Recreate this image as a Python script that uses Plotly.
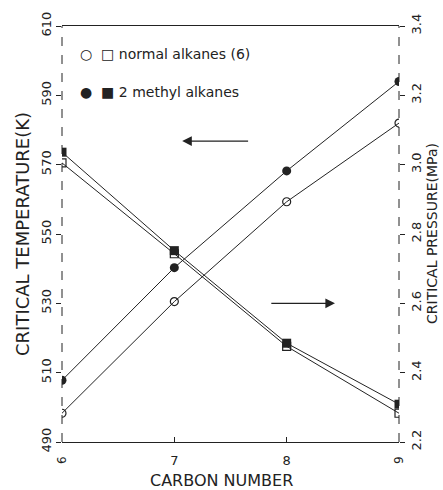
import plotly.graph_objects as go

carbon = [6, 7, 8, 9]
tc_normal = [498.3, 530.5, 559.3, 582.0]
tc_methyl = [507.8, 540.3, 568.2, 594.0]
pc_normal = [3.005, 2.743, 2.476, 2.283]
pc_methyl = [3.036, 2.752, 2.485, 2.309]
x_ticks = [6, 7, 8, 9]
t_ticks = [490, 510, 530, 550, 570, 590, 610]
p_ticks = [2.2, 2.4, 2.6, 2.8, 3.0, 3.2, 3.4]

FONT = "DejaVu Sans"
INK = "#222222"

fig = go.Figure()
line = dict(color=INK, width=1)
fig.add_trace(go.Scatter(x=carbon, y=tc_normal, mode="lines+markers", line=line,
                         marker=dict(symbol="circle-open", size=8, color=INK, line=dict(width=1.2))))
fig.add_trace(go.Scatter(x=carbon, y=tc_methyl, mode="lines+markers", line=line,
                         marker=dict(symbol="circle", size=9, color=INK)))
fig.add_trace(go.Scatter(x=carbon, y=pc_normal, mode="lines+markers", line=line, yaxis="y2",
                         marker=dict(symbol="square-open", size=8, color=INK, line=dict(width=1.2))))
fig.add_trace(go.Scatter(x=carbon, y=pc_methyl, mode="lines+markers", line=line, yaxis="y2",
                         marker=dict(symbol="square", size=9, color=INK)))

fig.update_layout(
    width=443, height=490,
    margin=dict(l=62, r=44, t=24, b=48),
    paper_bgcolor="white", plot_bgcolor="white",
    showlegend=False,
    font=dict(family=FONT, color=INK, size=13),
    xaxis=dict(range=[6, 9], tickvals=x_ticks, ticktext=["", "7", "8", ""],
               ticks="inside", ticklen=5, tickcolor=INK, showgrid=False, zeroline=False,
               showline=True, linecolor=INK, linewidth=1, mirror=True,
               ticklabelstandoff=6, tickfont=dict(size=13)),
    yaxis=dict(range=[490, 610], tickvals=t_ticks, tickangle=-90,
               ticks="outside", ticklen=5, tickcolor=INK, showgrid=False, zeroline=False,
               showline=False, tickfont=dict(size=13)),
    yaxis2=dict(range=[2.2, 3.4], tickvals=p_ticks, tickformat=".1f", tickangle=-90,
                overlaying="y", side="right",
                ticks="outside", ticklen=5, tickcolor=INK, showgrid=False, zeroline=False,
                showline=False, tickfont=dict(size=13)),
)

# dashed vertical axes
fig.add_shape(type="line", xref="paper", yref="paper", x0=0, x1=0, y0=0, y1=1,
              line=dict(color=INK, width=1, dash="dash"))
fig.add_shape(type="line", xref="paper", yref="paper", x0=1, x1=1, y0=0, y1=1,
              line=dict(color=INK, width=1, dash="dash"))

# end x tick labels rotated
fig.add_annotation(x=6, y=0, xref="x", yref="paper", text="6", showarrow=False,
                   textangle=-90, yanchor="middle", yshift=-18, font=dict(size=12))
fig.add_annotation(x=9, y=0, xref="x", yref="paper", text="9", showarrow=False,
                   textangle=-90, yanchor="middle", yshift=-18, font=dict(size=12))

# axis titles
fig.add_annotation(x=0, y=0.5, xref="paper", yref="paper", text="CRITICAL TEMPERATURE(K)",
                   showarrow=False, textangle=-90, xanchor="center", xshift=-40, font=dict(size=18))
fig.add_annotation(x=1, y=0.5, xref="paper", yref="paper", text="CRITICAL PRESSURE(MPa)",
                   showarrow=False, textangle=-90, xanchor="center", xshift=33, font=dict(size=14))
fig.add_annotation(x=0.5, y=0, xref="paper", yref="paper", text="CARBON NUMBER",
                   showarrow=False, yanchor="middle", yshift=-38, xshift=-9, font=dict(size=16))

# legend text
fig.add_annotation(x=0, y=1, xref="paper", yref="paper", xanchor="left", yanchor="middle",
                   text="○  □ normal alkanes (6)", showarrow=False,
                   xshift=16, yshift=-28, font=dict(size=14))
fig.add_annotation(x=0, y=1, xref="paper", yref="paper", xanchor="left", yanchor="middle",
                   text="●  ■ 2 methyl alkanes", showarrow=False,
                   xshift=16, yshift=-66, font=dict(size=14))

# arrows
fig.add_annotation(x=7.07, y=576.8, ax=7.67, ay=576.8, xref="x", yref="y", axref="x", ayref="y",
                   text="", showarrow=True, arrowhead=2, arrowsize=1.6, arrowwidth=1.2, arrowcolor=INK)
fig.add_annotation(x=8.43, y=2.6, ax=7.85, ay=2.6, xref="x", yref="y2", axref="x", ayref="y2",
                   text="", showarrow=True, arrowhead=2, arrowsize=1.6, arrowwidth=1.2, arrowcolor=INK)

fig.write_html("out.html")
